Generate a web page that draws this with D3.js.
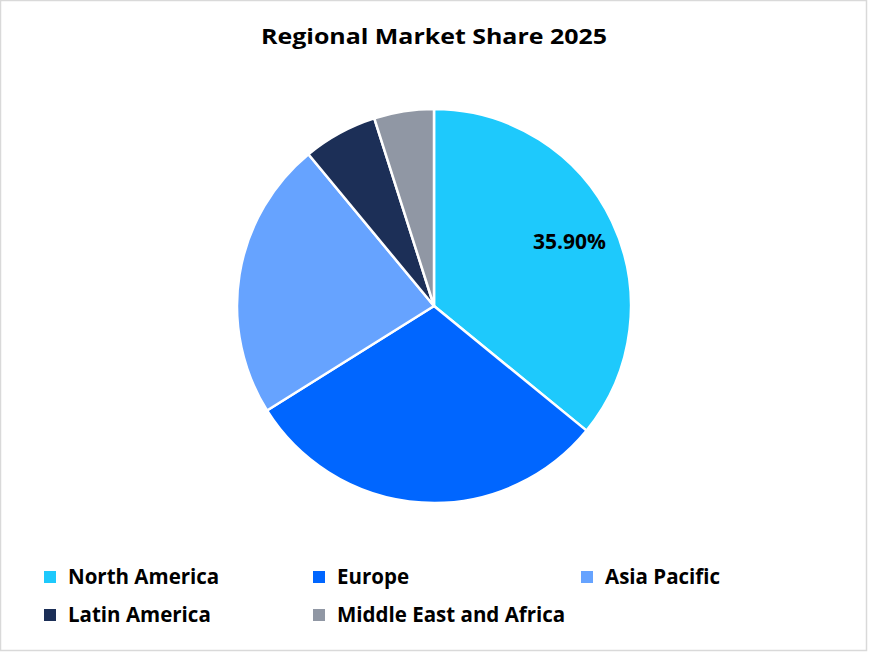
<!DOCTYPE html>
<html><head><meta charset="utf-8">
<script src="https://cdn.jsdelivr.net/npm/d3@7"></script>
<style>body{margin:0;background:#fff}svg{display:block}</style>
</head><body>
<svg id="c" width="869" height="653"></svg>
<script>
const categories = ["North America", "Europe", "Asia Pacific", "Latin America", "Middle East and Africa"];
const shares = [35.9, 30.2, 22.9, 6.1, 4.9];
const colors = ["#1ec9fc", "#0066ff", "#66a3ff", "#1c2f57", "#9097a4"];
const labelsShown = ["35.90%", "", "", "", ""];
const title = "Regional Market Share 2025";

const svg = d3.select("#c");
const font = "'Open Sans', 'Noto Sans', sans-serif";
svg.append("rect").attr("x", 0.5).attr("y", 0.5).attr("width", 866).attr("height", 650)
  .attr("fill", "#fff").attr("stroke", "#d9d9d9").attr("stroke-width", 1.5);

svg.append("text").attr("x", 434).attr("y", 44).attr("text-anchor", "middle")
  .attr("font-family", font).attr("font-weight", 700).attr("font-size", 22)
  .attr("textLength", 346).attr("lengthAdjust", "spacingAndGlyphs")
  .attr("fill", "#000").text(title);

const cx = 434, cy = 306, R = 197;
const data = categories.map((c, i) => ({cat: c, v: shares[i], color: colors[i], label: labelsShown[i]}));
const pie = d3.pie().value(d => d.v).sort(null);
const arc = d3.arc().innerRadius(0).outerRadius(R);
const labelArc = d3.arc().innerRadius(150).outerRadius(150);
const g = svg.append("g").attr("transform", `translate(${cx},${cy})`);
const arcs = pie(data);
g.selectAll("path").data(arcs).join("path")
  .attr("d", arc).attr("fill", d => d.data.color)
  .attr("stroke", "#fff").attr("stroke-width", 2.5).attr("stroke-linejoin", "round");
g.selectAll("text").data(arcs.filter(d => d.data.label)).join("text")
  .attr("transform", d => `translate(${labelArc.centroid(d)})`)
  .attr("text-anchor", "middle").attr("dy", "0.35em")
  .attr("font-family", font).attr("font-weight", 700).attr("font-size", 21)
  .attr("fill", "#000").text(d => d.data.label);

const colX = [44, 313, 581], rowY = [577, 615];
const lg = svg.append("g");
data.forEach((d, i) => {
  const x = colX[i % 3], y = rowY[Math.floor(i / 3)];
  lg.append("rect").attr("x", x).attr("y", y - 6).attr("width", 12).attr("height", 12).attr("fill", d.color);
  lg.append("text").attr("x", x + 24).attr("y", y).attr("dy", "0.35em")
    .attr("font-family", font).attr("font-weight", 700).attr("font-size", 20.5)
    .attr("fill", "#000").text(d.cat);
});
</script>
</body></html>
